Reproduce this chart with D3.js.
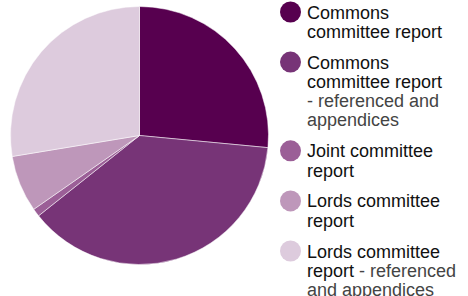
<!DOCTYPE html>
<html>
<head>
<meta charset="utf-8">
<script src="https://cdn.jsdelivr.net/npm/d3@7"></script>
<style>
  body { margin: 0; background: #fff; }
  svg { display: block; }
</style>
</head>
<body>
<div id="chart"></div>
<script>
// categories and share of reports (in percent)
var categories = ["Commons committee report",
                  "Commons committee report - referenced and appendices",
                  "Joint committee report",
                  "Lords committee report",
                  "Lords committee report - referenced and appendices"];
var values = [26.5, 37.8, 1.0, 7.1, 27.6];
var colors = ["#57004f", "#773477", "#9b5f97", "#be97ba", "#ddcbdd"];

// legend lines: [main text, secondary text] per line
var legendLines = [
  [["Commons", ""], ["committee report", ""]],
  [["Commons", ""], ["committee report", ""], ["", "- referenced and"], ["", "appendices"]],
  [["Joint committee", ""], ["report", ""]],
  [["Lords committee", ""], ["report", ""]],
  [["Lords committee", ""], ["report", " - referenced"], ["", "and appendices"]]
];

var width = 468,
    height = 296,
    radius = 129;

var svg = d3.select("#chart").append("svg")
    .attr("width", width)
    .attr("height", height);

var g = svg.append("g").attr("transform", "translate(139.5,135.5)");

var pie = d3.pie().sort(null).value(function(d) { return d; });
var arc = d3.arc().innerRadius(0).outerRadius(radius);

g.selectAll(".slice")
    .data(pie(values))
    .enter().append("path")
    .attr("class", "slice")
    .attr("d", arc)
    .style("fill", function(d, i) { return colors[i]; })
    .style("stroke", "#fff")
    .style("stroke-width", 0.5);

/******************************legend***************************************/
var lineH = 19.3, gap = 11.5;
var y = 12;
var legend = svg.append("g");

categories.forEach(function(c, i) {
  var item = legend.append("g").attr("transform", "translate(0," + y + ")");
  item.append("circle")
      .attr("cx", 290.5)
      .attr("cy", 0)
      .attr("r", 10.5)
      .style("fill", colors[i]);
  var text = item.append("text")
      .attr("x", 307)
      .attr("y", 6.5)
      .style("font-family", "'Liberation Sans', Arial, sans-serif")
      .style("font-size", "18px");
  legendLines[i].forEach(function(l, j) {
    var t = text.append("tspan").attr("x", 307).attr("dy", j ? lineH : 0);
    if (l[0]) t.append("tspan").style("fill", "#111").text(l[0]);
    if (l[1]) {
      if (l[0]) t.append("tspan").style("fill", "#444").text(l[1]);
      else t.style("fill", "#444").text(l[1]);
    }
  });
  y += legendLines[i].length * lineH + gap;
});
</script>
</body>
</html>
